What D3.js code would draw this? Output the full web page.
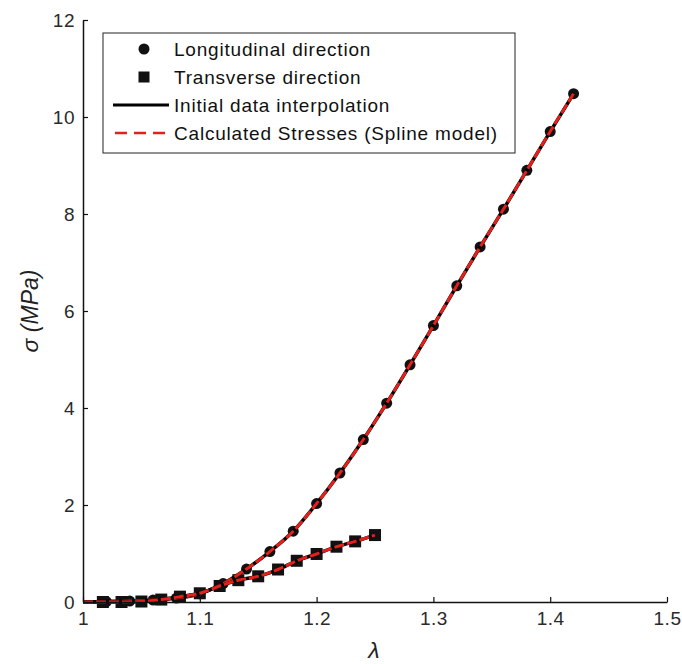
<!DOCTYPE html>
<html>
<head>
<meta charset="utf-8">
<script src="https://cdn.jsdelivr.net/npm/d3@7"></script>
<style>
  body { margin: 0; background: #fff; }
  svg { font-family: "Liberation Sans", Arial, sans-serif; }
  .tick text { font-size: 19px; fill: #2a2a2a; letter-spacing: 0.5px; }
  .axis-label { font-style: italic; font-size: 23px; fill: #222; }
  .legend text { font-size: 19px; fill: #111; letter-spacing: 0.8px; }
</style>
</head>
<body>
<svg></svg>
<script>
// longitudinal direction (circles)
const longLambda = [1.02, 1.04, 1.06, 1.08, 1.10, 1.12, 1.14, 1.16, 1.18, 1.20, 1.22,
  1.24, 1.26, 1.28, 1.30, 1.32, 1.34, 1.36, 1.38, 1.40, 1.42];
const longSigma = [0.01, 0.02, 0.04, 0.08, 0.17, 0.38, 0.68, 1.04, 1.46, 2.03, 2.66,
  3.35, 4.10, 4.89, 5.70, 6.52, 7.32, 8.10, 8.90, 9.70, 10.48];

// transverse direction (squares)
const transLambda = [1.017, 1.033, 1.05, 1.067, 1.083, 1.10, 1.117, 1.133, 1.15, 1.167,
  1.183, 1.20, 1.217, 1.233, 1.25];
const transSigma = [0.0, 0.0, 0.01, 0.05, 0.11, 0.18, 0.33, 0.45, 0.53, 0.67,
  0.85, 0.99, 1.14, 1.25, 1.38];

// both curves start at the origin
const origin = { lambda: 1.0, sigma: 0 };

const xTicks = [1, 1.1, 1.2, 1.3, 1.4, 1.5];
const yTicks = [0, 2, 4, 6, 8, 10, 12];

const legendLabels = ["Longitudinal direction", "Transverse direction",
  "Initial data interpolation", "Calculated Stresses (Spline model)"];

const width = 682, height = 664;
const svg = d3.select("svg").attr("width", width).attr("height", height);

const margin = { left: 83, right: 15, top: 20, bottom: 62 };
const graphWidth = width - margin.left - margin.right;
const graphHeight = height - margin.top - margin.bottom;

const xScale = d3.scaleLinear().domain([1, 1.5]).range([0, graphWidth]);
const yScale = d3.scaleLinear().domain([0, 12]).range([graphHeight, 0]);

const g = svg.append("g").attr("transform", `translate(${margin.left}, ${margin.top})`);

const longData = longLambda.map((l, i) => ({ lambda: l, sigma: longSigma[i] }));
const transData = transLambda.map((l, i) => ({ lambda: l, sigma: transSigma[i] }));

// markers
g.selectAll(".long")
  .data(longData)
  .join("circle")
  .attr("class", "long")
  .attr("cx", (d) => xScale(d.lambda))
  .attr("cy", (d) => yScale(d.sigma))
  .attr("r", 5.5)
  .attr("fill", "#111");

g.selectAll(".trans")
  .data(transData)
  .join("rect")
  .attr("class", "trans")
  .attr("x", (d) => xScale(d.lambda) - 6)
  .attr("y", (d) => yScale(d.sigma) - 6)
  .attr("width", 12)
  .attr("height", 12)
  .attr("fill", "#111");

// lines
const lineGen = d3.line()
  .x((d) => xScale(d.lambda))
  .y((d) => yScale(d.sigma))
  .curve(d3.curveMonotoneX);

[longData, transData].forEach((data) => {
  const pts = [origin].concat(data);
  g.append("path")
    .attr("d", lineGen(pts))
    .attr("fill", "none")
    .attr("stroke", "#000")
    .attr("stroke-width", 3.5);
  g.append("path")
    .attr("d", lineGen(pts))
    .attr("fill", "none")
    .attr("stroke", "#e3211c")
    .attr("stroke-width", 3)
    .attr("stroke-dasharray", "10,3");
});

// axes with inward ticks
const xAxis = d3.axisBottom(xScale).tickValues(xTicks).tickFormat(d3.format("")).tickSize(-5).tickSizeOuter(0).tickPadding(10);
const yAxis = d3.axisLeft(yScale).tickValues(yTicks).tickSize(-5).tickSizeOuter(0).tickPadding(8);

const xAxisG = g.append("g").attr("transform", `translate(0, ${graphHeight})`).call(xAxis);
const yAxisG = g.append("g").call(yAxis);
[xAxisG, yAxisG].forEach((a) => {
  a.select(".domain").attr("stroke", "#111").attr("stroke-width", 1.5);
  a.selectAll(".tick line").attr("stroke", "#111").attr("stroke-width", 1.2);
});
yAxisG.selectAll(".tick text").attr("dy", "0.35em");

xAxisG.append("text")
  .attr("class", "axis-label")
  .attr("x", xScale(1.249))
  .attr("y", 56)
  .attr("text-anchor", "middle")
  .text("λ");

yAxisG.append("text")
  .attr("class", "axis-label")
  .attr("transform", "rotate(-90)")
  .attr("x", -(yScale(6)))
  .attr("y", -45)
  .attr("text-anchor", "middle")
  .text("σ (MPa)");

// legend
const legend = svg.append("g").attr("class", "legend").attr("transform", "translate(103, 33)");
legend.append("rect")
  .attr("width", 412)
  .attr("height", 120)
  .attr("fill", "#fff")
  .attr("stroke", "#222")
  .attr("stroke-width", 1);

const rowY = (i) => 16 + i * 28;
legendLabels.forEach((label, i) => {
  legend.append("text")
    .attr("x", 71)
    .attr("y", rowY(i))
    .attr("dy", "0.35em")
    .text(label);
});
legend.append("circle").attr("cx", 41).attr("cy", rowY(0)).attr("r", 5.5).attr("fill", "#111");
legend.append("rect").attr("x", 35.5).attr("y", rowY(1) - 5.5).attr("width", 11).attr("height", 11).attr("fill", "#111");
legend.append("line")
  .attr("x1", 10).attr("x2", 66).attr("y1", rowY(2)).attr("y2", rowY(2))
  .attr("stroke", "#000").attr("stroke-width", 3);
legend.append("line")
  .attr("x1", 12).attr("x2", 68).attr("y1", rowY(3)).attr("y2", rowY(3))
  .attr("stroke", "#e3211c").attr("stroke-width", 2.5).attr("stroke-dasharray", "12,7");
</script>
</body>
</html>
